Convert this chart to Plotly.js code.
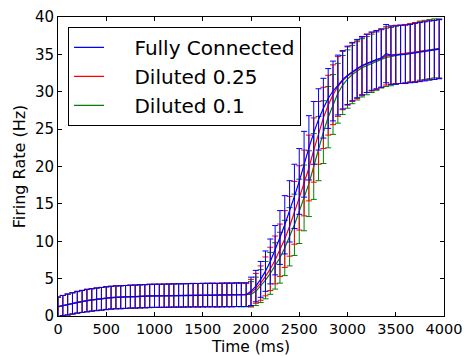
<!DOCTYPE html>
<html>
<head>
<meta charset="utf-8">
<script src="https://cdn.plot.ly/plotly-3.0.1.min.js"></script>
<style>html,body{margin:0;padding:0;background:#fff;}#chart{width:467px;height:356px;}</style>
</head>
<body>
<div id="chart"></div>
<script>
const seriesNames = ["Fully Connected", "Diluted 0.25", "Diluted 0.1"];
const timesMs = [0,50,100,150,200,250,300,350,400,450,500,550,600,650,700,750,800,850,900,950,
1000,1050,1100,1150,1200,1250,1300,1350,1400,1450,1500,1550,1600,1650,1700,1750,1800,1850,1900,1950,
2000,2050,2100,2150,2200,2250,2300,2350,2400,2450,2500,2550,2600,2650,2700,2750,2800,2850,2900,2950,
3000,3050,3100,3150,3200,3250,3300,3350,3400,3450,3500,3550,3600,3650,3700,3750,3800,3850,3900,3950];

const fullyMean = [1.25,1.4,1.55,1.7,1.85,1.95,2.05,2.15,2.25,2.3,2.4,2.45,2.5,2.5,2.55,2.6,2.6,2.65,2.65,2.7,
2.7,2.7,2.72,2.72,2.75,2.75,2.75,2.78,2.78,2.78,2.8,2.8,2.8,2.8,2.82,2.82,2.82,2.85,2.85,2.85,
3.3,4.0,4.9,6.0,7.3,8.8,10.5,12.2,14.0,16.0,18.0,20.3,22.5,24.5,26.3,27.8,29.1,30.1,30.9,31.6,
32.2,32.7,33.1,33.5,33.8,34.1,34.3,34.5,35.1,34.9,34.9,35.0,35.0,35.1,35.2,35.3,35.4,35.5,35.6,35.7];
const fullyErr = [1.3,1.35,1.4,1.42,1.45,1.47,1.5,1.5,1.5,1.52,1.52,1.52,1.53,1.53,1.53,1.53,1.54,1.54,1.54,1.55,
1.55,1.55,1.55,1.55,1.55,1.56,1.56,1.56,1.56,1.56,1.57,1.57,1.57,1.57,1.57,1.58,1.58,1.58,1.58,1.58,
1.9,2.1,2.4,2.7,3.0,3.3,3.6,3.9,4.1,4.3,4.4,4.4,4.3,4.2,4.1,4.0,4.0,4.0,4.0,3.9,
3.9,3.9,3.9,3.9,3.9,3.9,3.9,3.9,3.9,3.9,3.9,3.9,3.9,3.9,3.95,3.95,3.95,3.95,3.95,3.95];

const dil25Mean = [1.2,1.4,1.55,1.7,1.85,1.95,2.1,2.15,2.25,2.3,2.4,2.45,2.5,2.55,2.55,2.6,2.6,2.65,2.65,2.7,
2.7,2.72,2.72,2.75,2.75,2.75,2.78,2.78,2.8,2.78,2.8,2.8,2.82,2.8,2.82,2.85,2.82,2.85,2.85,2.85,
3.1,3.7,4.4,5.3,6.3,7.5,8.8,10.3,12.0,13.8,15.8,17.8,19.8,22.2,24.5,26.5,28.2,29.6,30.7,31.5,
32.1,32.6,33.0,33.4,33.8,34.0,34.2,34.5,34.8,34.9,35.0,35.0,35.1,35.2,35.3,35.4,35.5,35.6,35.6,35.7];
const dil25Err = [1.3,1.35,1.4,1.43,1.45,1.48,1.5,1.5,1.51,1.52,1.52,1.53,1.53,1.53,1.54,1.54,1.54,1.55,1.55,1.55,
1.55,1.55,1.56,1.56,1.56,1.56,1.56,1.57,1.57,1.57,1.57,1.57,1.58,1.58,1.58,1.58,1.58,1.58,1.58,1.58,
1.8,2.0,2.3,2.6,2.9,3.2,3.5,3.8,4.0,4.2,4.3,4.4,4.4,4.3,4.2,4.1,4.0,4.0,4.0,3.9,
3.9,3.9,3.9,3.9,3.9,3.9,3.9,3.9,3.9,3.9,3.9,3.9,3.9,3.9,3.95,3.95,3.95,3.95,3.95,3.95];

const dil10Mean = [1.25,1.4,1.5,1.65,1.8,1.95,2.05,2.15,2.2,2.3,2.35,2.45,2.5,2.5,2.55,2.55,2.6,2.6,2.65,2.65,
2.7,2.7,2.7,2.72,2.72,2.75,2.75,2.75,2.78,2.78,2.78,2.8,2.8,2.78,2.8,2.8,2.82,2.82,2.8,2.82,
2.9,3.3,4.0,4.8,5.7,6.7,7.8,9.1,10.6,12.2,14.0,15.8,17.7,20.0,22.4,24.6,26.6,28.3,29.8,30.9,
31.7,32.3,32.8,33.2,33.5,33.8,34.1,34.4,34.6,34.7,34.9,35.0,35.1,35.2,35.3,35.5,35.6,35.7,35.8,35.8];
const dil10Err = [1.3,1.34,1.38,1.42,1.45,1.47,1.49,1.5,1.51,1.52,1.52,1.52,1.53,1.53,1.53,1.54,1.54,1.54,1.55,1.55,
1.55,1.55,1.55,1.56,1.56,1.56,1.56,1.56,1.57,1.57,1.57,1.57,1.57,1.58,1.58,1.58,1.58,1.58,1.58,1.58,
1.7,1.9,2.2,2.5,2.8,3.1,3.4,3.7,3.9,4.1,4.3,4.4,4.4,4.4,4.3,4.2,4.1,4.0,4.0,3.95,
3.9,3.9,3.9,3.9,3.9,3.9,3.9,3.9,3.9,3.9,3.9,3.9,3.9,3.9,3.95,3.95,3.95,3.95,3.95,3.95];

const seriesColors = ["#0000ff", "#ff0000", "#008000"];
const legendPad = "\u00A0\u00A0\u00A0\u00A0";

function mk(name, y, err, color, rank) {
  return {
    type: "scatter", mode: "lines", name: legendPad + name, x: timesMs, y: y,
    line: {color: color, width: 1.2},
    error_y: {type: "data", array: err, visible: true, color: color, thickness: 1, width: 3},
    legendrank: rank
  };
}

const data = [
  mk(seriesNames[2], dil10Mean, dil10Err, seriesColors[2], 3),
  mk(seriesNames[1], dil25Mean, dil25Err, seriesColors[1], 2),
  mk(seriesNames[0], fullyMean, fullyErr, seriesColors[0], 1)
];

const axisCommon = {
  showgrid: false, zeroline: false, showline: true, linecolor: "#000", linewidth: 1,
  mirror: "ticks", ticks: "inside", ticklen: 4, tickcolor: "#000",
  tickfont: {family: "DejaVu Sans", size: 15, color: "#000"}
};

const layout = {
  width: 467, height: 356,
  margin: {l: 58, r: 23, t: 17, b: 40},
  paper_bgcolor: "#fff", plot_bgcolor: "#fff",
  font: {family: "DejaVu Sans", color: "#000"},
  xaxis: Object.assign({}, axisCommon, {
    range: [0, 4000], tickmode: "linear", tick0: 0, dtick: 500,
    tickfont: {family: "DejaVu Sans", size: 14.5, color: "#000"},
    automargin: false,
    title: {text: "Time (ms)", font: {family: "DejaVu Sans", size: 15.5}, standoff: 4}
  }),
  yaxis: Object.assign({}, axisCommon, {
    range: [0, 40], tickmode: "linear", tick0: 0, dtick: 5,
    title: {text: "Firing Rate (Hz)", font: {family: "DejaVu Sans", size: 16}, standoff: 5}
  }),
  legend: {
    x: 0.026, y: 0.967, xanchor: "left", yanchor: "top",
    bgcolor: "#fff", bordercolor: "#000", borderwidth: 1,
    font: {family: "DejaVu Sans", size: 20, color: "#000"},
    traceorder: "normal"
  },
  showlegend: true
};

Plotly.newPlot("chart", data, layout, {displayModeBar: false, staticPlot: true});
</script>
</body>
</html>
